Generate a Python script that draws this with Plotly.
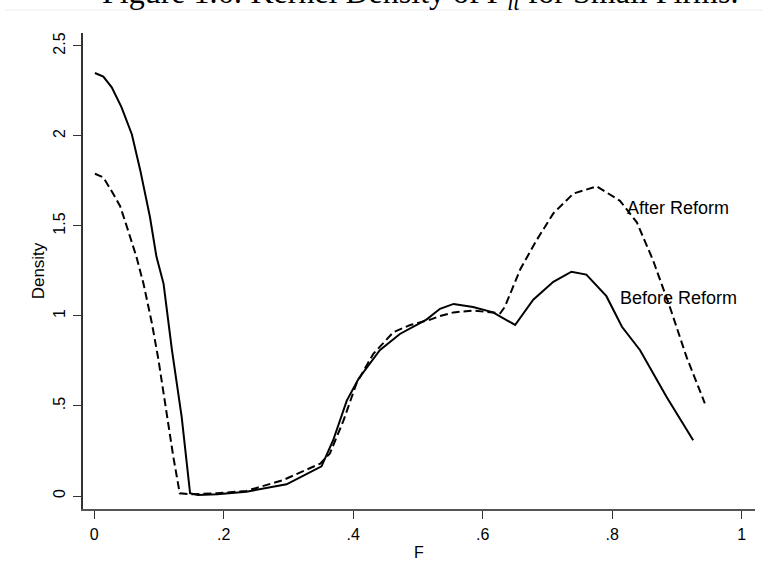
import plotly.graph_objects as go

# Kernel density, before reform (solid)
before_f = [0.001, 0.014, 0.027, 0.042, 0.058, 0.071, 0.086, 0.096, 0.107, 0.12, 0.135, 0.148,
            0.16, 0.19, 0.235, 0.297, 0.351, 0.369, 0.39, 0.408, 0.441, 0.472, 0.513, 0.534,
            0.555, 0.585, 0.616, 0.65, 0.678, 0.709, 0.737, 0.76, 0.791, 0.815, 0.843, 0.884, 0.925]
before_d = [2.35, 2.33, 2.27, 2.16, 2.01, 1.81, 1.55, 1.33, 1.18, 0.81, 0.44, 0.015,
            0.005, 0.01, 0.024, 0.065, 0.165, 0.31, 0.53, 0.65, 0.81, 0.90, 0.98, 1.04,
            1.067, 1.05, 1.02, 0.95, 1.09, 1.19, 1.246, 1.23, 1.11, 0.94, 0.81, 0.55, 0.31]

# Kernel density, after reform (dashed)
after_f = [0.001, 0.014, 0.029, 0.04, 0.05, 0.06, 0.065, 0.076, 0.089, 0.099, 0.112, 0.122,
           0.132, 0.15, 0.19, 0.235, 0.292, 0.349, 0.364, 0.385, 0.405, 0.431, 0.462, 0.488,
           0.519, 0.534, 0.555, 0.585, 0.627, 0.634, 0.658, 0.683, 0.709, 0.74, 0.776, 0.812,
           0.838, 0.863, 0.889, 0.915, 0.943]
after_d = [1.79, 1.77, 1.68, 1.61, 1.50, 1.385, 1.33, 1.18, 0.96, 0.76, 0.44, 0.22,
           0.015, 0.01, 0.015, 0.028, 0.089, 0.18, 0.237, 0.42, 0.626, 0.79, 0.91, 0.95,
           0.98, 1.0, 1.02, 1.03, 1.015, 1.05, 1.26, 1.42, 1.57, 1.68, 1.72, 1.64,
           1.52, 1.31, 1.05, 0.77, 0.515]

x_ticks = [0, 0.2, 0.4, 0.6, 0.8, 1.0]
x_tick_labels = ["0", ".2", ".4", ".6", ".8", "1"]
y_ticks = [0, 0.5, 1.0, 1.5, 2.0, 2.5]
y_tick_labels = ["0", ".5", "1", "1.5", "2", "2.5"]

FONT = "Liberation Sans, Arial, sans-serif"

fig = go.Figure()
fig.add_trace(go.Scatter(x=before_f, y=before_d, mode="lines", name="Before Reform",
                         line=dict(color="black", width=2)))
fig.add_trace(go.Scatter(x=after_f, y=after_d, mode="lines", name="After Reform",
                         line=dict(color="black", width=2, dash="8px,4px")))

fig.add_annotation(x=0.82, y=1.6, xref="x", yref="y", text="After Reform", showarrow=False,
                   xanchor="left", yanchor="middle", font=dict(family=FONT, size=18, color="black"))
fig.add_annotation(x=0.809, y=1.1, xref="x", yref="y", text="Before Reform", showarrow=False,
                   xanchor="left", yanchor="middle", font=dict(family=FONT, size=18, color="black"))

# Cropped caption at the very top of the page
fig.add_annotation(x=0.501, y=1.0345, xref="paper", yref="paper",
                   text="Figure 1.6: Kernel Density of <i>F</i><sub><i>it</i></sub> for Small Firms.",
                   showarrow=False, xanchor="center", yanchor="bottom",
                   font=dict(family="Liberation Serif, DejaVu Serif, serif", size=32, color="black"))
fig.add_shape(type="line", xref="paper", yref="paper", x0=-0.116, x1=1.02, y0=1.0483, y1=1.0483,
              line=dict(color="#ececec", width=1))

fig.update_layout(
    width=762, height=584,
    margin=dict(l=83, r=7, t=33, b=75),
    paper_bgcolor="white", plot_bgcolor="white",
    showlegend=False,
    font=dict(family=FONT, size=16, color="black"),
)
fig.update_xaxes(
    range=[-0.0174, 1.0205], tickvals=x_ticks, ticktext=x_tick_labels,
    showgrid=False, zeroline=False, showline=True, linecolor="#555", linewidth=1.5,
    ticks="outside", ticklen=8, tickcolor="#333", tickwidth=1,
    ticklabelstandoff=2,
    title=dict(text="F", standoff=5, font=dict(size=16)),
)
fig.update_yaxes(
    range=[-0.0722, 2.572], tickvals=y_ticks, ticktext=y_tick_labels,
    showgrid=False, zeroline=False, showline=True, linecolor="#333", linewidth=1.5,
    ticks="outside", ticklen=8, tickcolor="#333", tickwidth=1, tickangle=-90,
    ticklabelstandoff=2,
    title=dict(text="Density", standoff=2, font=dict(size=17)),
)

fig.write_html("out.html", config={"displayModeBar": False},
               post_script="document.body.style.margin='0';document.body.style.overflow='hidden';")
